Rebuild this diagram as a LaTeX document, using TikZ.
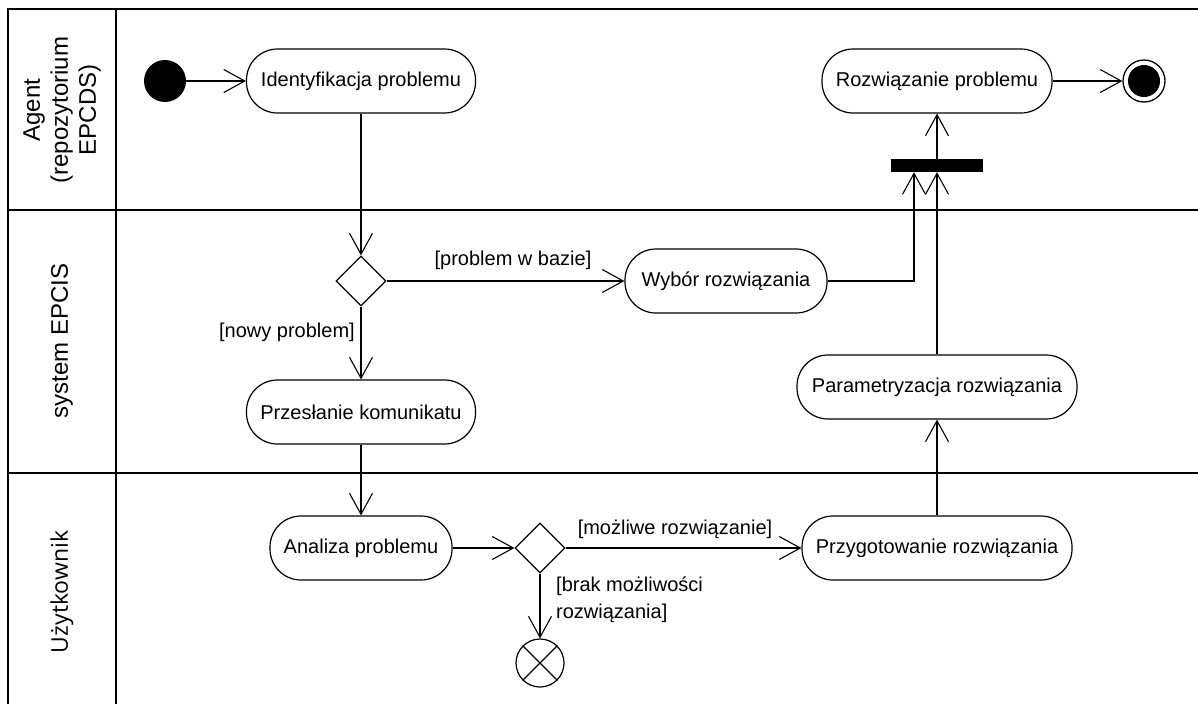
\documentclass[tikz,border=0pt]{standalone}
\usepackage{fontspec}
\setmainfont{Liberation Sans}
\newfontfamily\lanefont{Open Sans}
\usetikzlibrary{arrows.meta,shapes.geometric,calc}

\begin{document}
\begin{tikzpicture}[x=1pt,y=-1pt,
  every node/.style={font=\fontsize{20}{27}\selectfont},
  frame/.style={line width=1.2pt},
  act/.style={draw, line width=1.2pt, rectangle, rounded corners=31pt,
    minimum height=64pt, inner sep=0pt},
  dec/.style={draw, line width=1.2pt, diamond, minimum width=50pt,
    minimum height=50pt, inner sep=0pt},
  flow/.style={line width=1.1pt,
    -{Straight Barb[length=21pt,width=23pt,line width=1.1pt]}},
  guard/.style={inner sep=0pt},
  lane/.style={rotate=90, align=center, inner sep=0pt,
    font=\fontsize{24}{28}\selectfont}]

\useasboundingbox (0,0) rectangle (1198,704);

% swimlane frame
\draw[frame] (8,704) -- (8,9) -- (1198,9);
\draw[frame] (116,9) -- (116,704);
\draw[frame] (8,210) -- (1198,210);
\draw[frame] (8,473) -- (1198,473);

% lane titles
\node[lane] (laneA) at (62,110) {Agent\\(repozytorium\\EPCDS)};
\node[lane] (laneS) at (62,341) {system EPCIS};
\node[lane, font=\lanefont\fontsize{23}{26}\selectfont] (laneU) at (62,592) {Użytkownik};

% nodes
\node[circle, fill=black, minimum size=42pt, inner sep=0pt] (start) at (165,81) {};
\node[act, minimum width=229pt] (ident) at (361,81) {Identyfikacja problemu};
\node[act, minimum width=230pt] (rozw) at (937,81) {Rozwiązanie problemu};
\node[circle, draw, line width=1.3pt, minimum size=42pt, inner sep=0pt] (fin) at (1144,81) {};
\node[circle, fill=black, minimum size=32pt, inner sep=0pt] (fincore) at (fin.center) {};
\node[rectangle, fill=black, minimum width=92pt, minimum height=13pt, inner sep=0pt] (bar) at (937,165.5) {};

\node[dec] (d1) at (361,281) {};
\node[act, minimum width=202pt] (wybor) at (726,281) {Wybór rozwiązania};
\node[act, minimum width=229pt] (przes) at (361,412) {Przesłanie komunikatu};
\node[act, minimum width=280pt] (param) at (937,387) {Parametryzacja rozwiązania};

\node[act, minimum width=182pt] (anal) at (361,548) {Analiza problemu};
\node[dec] (d2) at (540,548) {};
\node[act, minimum width=270pt] (przyg) at (937,548) {Przygotowanie rozwiązania};
\node[circle, draw, line width=1.2pt, minimum size=48pt, inner sep=0pt] (ff) at (540,663) {};
\draw[line width=1.2pt] (ff.north east) -- (ff.south west);
\draw[line width=1.2pt] (ff.north west) -- (ff.south east);

% guard labels
\node[guard] (g1) at (513,260) {[problem w bazie]};
\node[guard, anchor=east] (g2) at (355,332) {[nowy problem]};
\node[guard] (g3) at (675,529) {[możliwe rozwiązanie]};
\node[guard, anchor=west, align=left] (g4) at (556,600) {[brak możliwości\\rozwiązania]};

% control flows
\draw[flow] (start) -- (ident);
\draw[flow] (ident) -- (d1);
\draw[flow] (d1) -- (wybor);
\draw[flow] (d1) -- (przes);
\draw[flow] (wybor.east) -| ($(bar.south)+(-23,0)$);
\draw[flow] (param) -- (bar);
\draw[flow] (bar) -- (rozw);
\draw[flow] (rozw) -- (fin);
\draw[flow] (przes) -- (anal);
\draw[flow] (anal) -- (d2);
\draw[flow] (d2) -- (przyg);
\draw[flow] (d2) -- (ff);
\draw[flow] (przyg) -- (param);
\end{tikzpicture}
\end{document}
